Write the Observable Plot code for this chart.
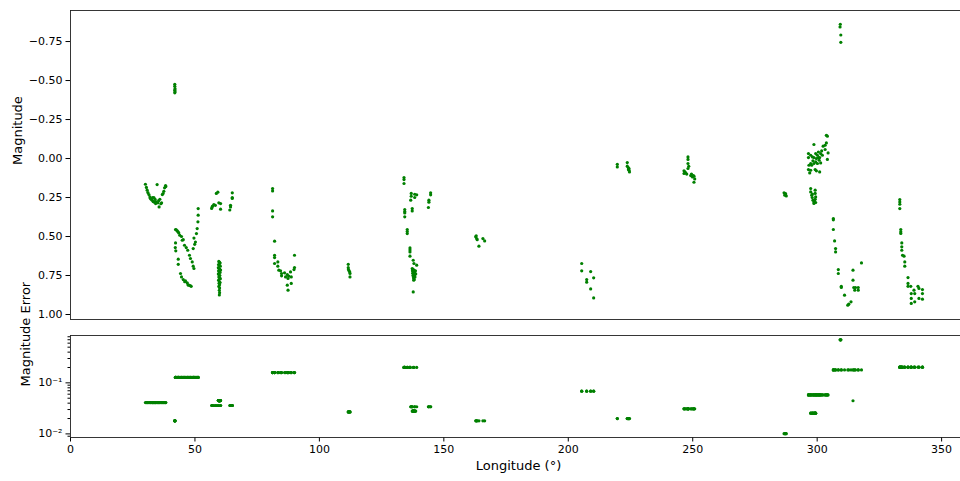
<!DOCTYPE html>
<html><head><meta charset="utf-8">
<script src="https://cdn.jsdelivr.net/npm/d3@7"></script>
<script src="https://cdn.jsdelivr.net/npm/@observablehq/plot@0.6"></script>
<style>
body{margin:0;background:#fff;}
#wrap{width:960px;height:481px;overflow:hidden;position:relative;background:#fff;}
#wrap svg{display:block;max-width:none !important;height:auto;}
</style></head><body><div id="wrap"></div>
<script>
// ---- data: observing sessions, each [longitude (deg), magnitude] ----
const s01 = [[30.1,0.165],[30.5,0.185],[30.8,0.203],[31.1,0.218],[31.5,0.231],[31.9,0.246],[32.1,0.255],[32.4,0.261],[32.8,0.267],[33.0,0.25],[33.2,0.276],[33.5,0.25],[33.7,0.28],[34.0,0.262],[34.2,0.289],[34.4,0.278],[34.8,0.167],[35.1,0.284],[35.4,0.27],[35.6,0.31],[35.9,0.261],[36.3,0.29],[36.6,0.284],[36.9,0.231],[37.2,0.225],[37.5,0.21],[37.8,0.188],[38.2,0.173],[38.3,0.18]];
const s02 = [[41.9,-0.476],[41.9,-0.463],[42.0,-0.448],[41.9,-0.438],[42.0,-0.428],[41.9,-0.421]];
const s03 = [[42.2,0.455],[42.5,0.458],[42.9,0.464],[43.2,0.47],[43.5,0.477],[43.9,0.492],[42.2,0.541],[42.1,0.571],[42.3,0.592],[43.3,0.645],[43.3,0.678],[44.2,0.737],[44.6,0.759],[45.3,0.776],[45.9,0.79],[46.2,0.785],[46.9,0.797],[47.2,0.81],[47.5,0.812],[48.1,0.815],[48.5,0.819],[44.6,0.5],[44.9,0.524],[45.3,0.52],[45.8,0.556],[46.5,0.571],[47.1,0.588],[47.8,0.62],[48.2,0.641],[48.9,0.663],[49.3,0.69],[49.6,0.705],[49.3,0.577],[49.6,0.51],[49.9,0.55],[50.2,0.535],[50.6,0.481],[50.9,0.449],[51.2,0.406],[51.3,0.363],[51.3,0.321]];
const s04 = [[56.7,0.32],[56.9,0.31],[57.1,0.305],[57.6,0.295],[58.2,0.3],[58.6,0.224],[59.2,0.216],[59.6,0.284],[60.3,0.289],[60.3,0.325],[64.0,0.33],[64.3,0.31],[64.3,0.3],[65.0,0.256],[65.0,0.25],[65.0,0.22]];
const s05 = [[59.6,0.66],[59.9,0.665],[60.1,0.67],[59.5,0.68],[59.8,0.685],[60.2,0.69],[59.4,0.70],[59.7,0.705],[60.0,0.71],[60.3,0.715],[59.5,0.72],[59.8,0.725],[60.1,0.73],[59.4,0.74],[59.7,0.745],[60.0,0.75],[59.6,0.76],[59.9,0.765],[60.2,0.77],[59.5,0.78],[59.8,0.79],[60.1,0.795],[59.7,0.80],[59.9,0.81],[59.6,0.82],[59.9,0.83],[59.8,0.845],[59.9,0.86],[59.8,0.875]];
const s06 = [[81.2,0.192],[81.2,0.208],[81.2,0.336],[81.2,0.374],[82.0,0.53],[82.0,0.62],[82.0,0.635],[82.0,0.673],[83.3,0.663],[83.3,0.69],[83.7,0.716],[84.4,0.72],[84.8,0.737],[84.8,0.752],[86.0,0.733],[86.4,0.759],[87.1,0.744],[87.4,0.769],[87.7,0.754],[88.4,0.727],[88.7,0.759],[87.1,0.812],[87.4,0.844],[88.7,0.801],[89.8,0.712],[90.0,0.699],[90.0,0.62]];
const s07 = [[111.6,0.678],[111.6,0.70],[111.7,0.712],[111.9,0.72],[112.2,0.727],[112.3,0.737],[112.3,0.759]];
const s08 = [[134.0,0.122],[134.0,0.135],[134.0,0.16],[134.3,0.327],[134.3,0.34],[134.3,0.349],[134.3,0.374],[135.3,0.455],[135.3,0.468],[135.3,0.481],[136.4,0.573],[136.4,0.586],[136.4,0.599],[136.4,0.626],[137.7,0.652],[138.0,0.673],[139.1,0.684]];
const s09 = [[136.9,0.224],[136.9,0.242],[136.7,0.267],[138.3,0.229],[139.1,0.233],[138.3,0.25],[137.3,0.321],[137.3,0.336],[144.7,0.22],[144.7,0.233],[144.0,0.267],[144.0,0.28],[143.8,0.314]];
const s10 = [[137.3,0.705],[137.6,0.71],[138.0,0.715],[137.4,0.72],[137.8,0.725],[138.2,0.73],[138.6,0.72],[137.5,0.735],[137.9,0.74],[138.3,0.745],[138.7,0.74],[137.6,0.75],[138.0,0.755],[138.4,0.76],[137.8,0.765],[138.1,0.775],[137.9,0.78],[137.7,0.855]];
const s11 = [[162.8,0.502],[163.0,0.495],[163.2,0.513],[163.4,0.52],[164.1,0.562],[165.7,0.513],[166.4,0.528]];
const s12 = [[205.4,0.673],[205.4,0.72],[207.4,0.776],[207.4,0.793],[209.0,0.725],[210.2,0.765],[209.0,0.836],[210.2,0.894]];
const s13 = [[219.7,0.037],[219.7,0.054],[223.7,0.026],[223.7,0.049],[224.1,0.058],[224.4,0.064],[224.4,0.075],[224.6,0.086],[224.2,0.07]];
const s14 = [[246.5,0.079],[246.5,0.096],[246.8,0.085],[247.2,0.092],[247.6,0.1],[248.1,0.006],[248.1,-0.01],[248.1,0.032],[248.1,0.064],[248.4,0.05],[249.2,0.109],[249.5,0.1],[249.9,0.118],[250.2,0.11],[250.5,0.113],[250.8,0.131],[250.5,0.152]];
const s15 = [[286.7,0.22],[287.0,0.235],[287.3,0.225],[287.6,0.24],[287.2,0.23]];
const s16 = [[296.5,-0.032],[296.5,-0.006],[297.4,-0.021],[298.1,-0.01],[298.7,-0.09],[298.3,0.015],[297.4,0.032],[296.7,0.043],[297.8,0.043],[298.7,0.032],[299.4,0.022],[299.7,0.0],[300.1,-0.021],[300.5,-0.042],[300.8,0.011],[301.0,-0.006],[301.4,-0.032],[301.8,-0.049],[301.4,0.028],[302.1,-0.021],[302.4,-0.079],[303.2,-0.085],[303.7,-0.1],[304.1,-0.143],[303.7,-0.149],[304.4,-0.036],[304.1,0.006],[303.2,-0.058],[299.4,-0.032],[300.1,0.032],[299.2,0.071],[299.7,0.079],[297.4,0.075],[296.5,0.071],[297.0,0.092],[301.0,0.086],[298.7,-0.006],[300.5,-0.006]];
const s17 = [[297.4,0.192],[297.4,0.214],[297.8,0.235],[298.0,0.25],[298.3,0.267],[298.7,0.278],[299.2,0.203],[299.2,0.224],[299.4,0.246],[299.2,0.261],[298.7,0.288],[298.1,0.228],[298.9,0.27],[299.4,0.282]];
const s18 = [[309.3,-0.861],[309.2,-0.844],[309.5,-0.792],[309.5,-0.745]];
const s19 = [[306.5,0.385],[306.5,0.393],[306.5,0.455],[307.0,0.528],[307.4,0.577],[307.4,0.599],[308.5,0.712],[308.5,0.737],[309.7,0.819],[309.7,0.827],[311.0,0.876],[312.3,0.94],[312.7,0.934],[313.6,0.919],[314.4,0.78],[314.7,0.827],[315.1,0.844],[315.4,0.827],[316.5,0.827],[316.5,0.844],[317.8,0.669]];
const s20 = [[314.4,0.716]];
const s21 = [[333.2,0.263],[333.2,0.278],[333.2,0.293],[333.2,0.321],[333.6,0.455],[333.6,0.47],[333.6,0.48],[334.0,0.541],[334.0,0.566],[334.0,0.588],[334.3,0.62],[334.9,0.626],[335.2,0.663],[335.2,0.69],[336.5,0.763],[336.5,0.801],[336.5,0.819],[337.6,0.819],[337.8,0.866],[337.8,0.897],[337.8,0.929],[338.9,0.844],[339.2,0.919],[340.5,0.819],[340.9,0.833],[342.3,0.84],[342.3,0.866],[340.9,0.897],[342.3,0.902],[339.2,0.866]];

// magnitude error of each session (same order)
const sessionErr = [0.041,0.018,0.128,0.036,0.045,0.159,0.027,0.201,0.034,0.028,0.018,0.0686,0.020,0.031,0.0101,0.058,0.0255,0.698,0.179,0.0446,0.203];
const sessions = [s01,s02,s03,s04,s05,s06,s07,s08,s09,s10,s11,s12,s13,s14,s15,s16,s17,s18,s19,s20,s21];

// ticks
const magTicks = [-0.75,-0.5,-0.25,0,0.25,0.5,0.75,1.0];
const lonTicks = [0,50,100,150,200,250,300,350];
const errMajor = [0.01,0.1];
const errMajorLabels = ["10\u207B\u00B2","10\u207B\u00B9"];
const errMinor = [0.009,0.02,0.03,0.04,0.05,0.06,0.07,0.08,0.09,0.2,0.3,0.4,0.5,0.6,0.7,0.8];

const rows = [];
sessions.forEach((pts,i)=>pts.forEach(([lon,mag])=>rows.push({lon,mag,err:sessionErr[i]})));

const W = 966;
const font = "'DejaVu Sans', sans-serif";
const style = {fontFamily: font, fontSize: "11px", color: "black", background: "white", overflow: "visible", maxWidth: "none"};
const green = "#008000";

const topPlot = Plot.plot({
  width: W, height: 327, marginLeft: 70, marginRight: 0, marginTop: 10, marginBottom: 8,
  style,
  x: {domain: [0, 360], axis: null},
  y: {domain: [-0.949, 1.032], reverse: true, axis: null},
  marks: [
    Plot.axisY(magTicks, {tickSize: 4.5, tickPadding: 3.5, tickFormat: d3.format(".2f"), label: null}),
    Plot.dot(rows, {x: "lon", y: "mag", r: 1.6, fill: green}),
    Plot.frame({stroke: "#222", strokeWidth: 0.9}),
    Plot.text(["Magnitude"], {text: d => d, frameAnchor: "left", dx: -52.5, rotate: -90, fontSize: 13})
  ]
});

const botPlot = Plot.plot({
  width: W, height: 154, marginLeft: 70, marginRight: 0, marginTop: 8, marginBottom: 44,
  style,
  x: {domain: [0, 360], axis: null},
  y: {type: "log", domain: [0.0085, 0.847], axis: null},
  marks: [
    Plot.axisX(lonTicks, {tickSize: 4.5, tickPadding: 3.5, label: null}),
    Plot.axisY(errMajor, {tickSize: 4.5, tickPadding: 3.5, tickFormat: v => errMajorLabels[errMajor.indexOf(v)], label: null}),
    Plot.axisY(errMinor, {tickSize: 2.5, tickFormat: () => "", label: null}),
    Plot.dot(rows, {x: "lon", y: "err", r: 1.6, fill: green}),
    Plot.frame({stroke: "#222", strokeWidth: 0.9}),
    Plot.text(["Magnitude Error"], {text: d => d, frameAnchor: "left", dx: -44.7, rotate: -90, fontSize: 13}),
    Plot.text(["Longitude (\u00B0)"], {text: d => d, frameAnchor: "bottom", dy: 32, fontSize: 13})
  ]
});

const wrap = document.getElementById("wrap");
for (const svg of [topPlot, botPlot]) {
  svg.style.maxWidth = "none";
  svg.style.width = W + "px";
  wrap.appendChild(svg);
}
</script>
</body></html>
